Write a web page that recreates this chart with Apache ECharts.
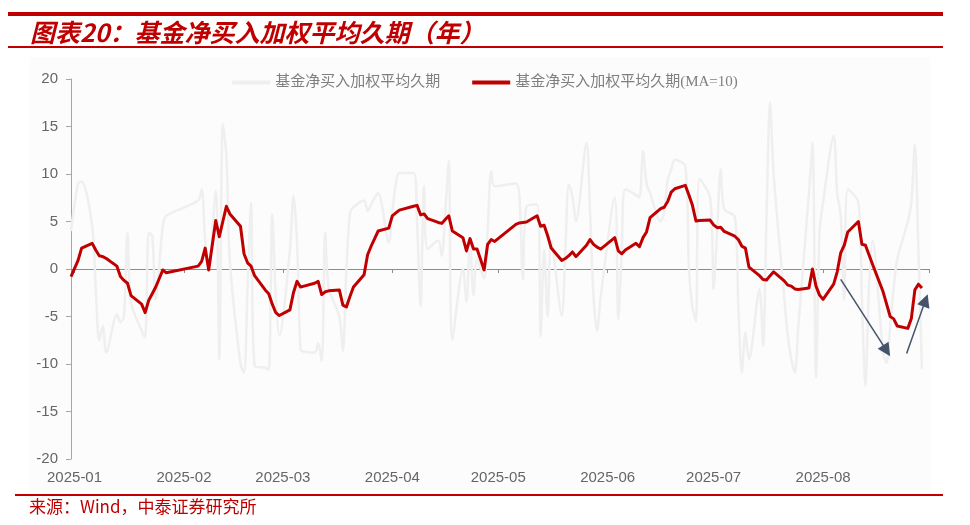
<!DOCTYPE html>
<html>
<head>
<meta charset="utf-8">
<script src="https://cdn.jsdelivr.net/npm/echarts@6/dist/echarts.min.js"></script>
<style>
html,body{margin:0;padding:0;background:#ffffff;}
#chart{width:970px;height:525px;}
</style>
</head>
<body>
<div id="chart"></div>
<script>
// ---- data ----
const tradeDates = [
'2024-12-31',
'2025-01-02','2025-01-03','2025-01-06','2025-01-07','2025-01-08','2025-01-09','2025-01-10','2025-01-13','2025-01-14','2025-01-15','2025-01-16','2025-01-17','2025-01-20','2025-01-21','2025-01-22','2025-01-23','2025-01-24','2025-01-26','2025-01-27',
'2025-02-05','2025-02-06','2025-02-07','2025-02-08','2025-02-10','2025-02-11','2025-02-12','2025-02-13','2025-02-14','2025-02-17','2025-02-18','2025-02-19','2025-02-20','2025-02-21','2025-02-24','2025-02-25','2025-02-26','2025-02-27','2025-02-28',
'2025-03-03','2025-03-04','2025-03-05','2025-03-06','2025-03-07','2025-03-10','2025-03-11','2025-03-12','2025-03-13','2025-03-14','2025-03-17','2025-03-18','2025-03-19','2025-03-20','2025-03-21','2025-03-24','2025-03-25','2025-03-26','2025-03-27','2025-03-28','2025-03-31',
'2025-04-01','2025-04-02','2025-04-03','2025-04-07','2025-04-08','2025-04-09','2025-04-10','2025-04-11','2025-04-14','2025-04-15','2025-04-16','2025-04-17','2025-04-18','2025-04-21','2025-04-22','2025-04-23','2025-04-24','2025-04-25','2025-04-27','2025-04-28','2025-04-29','2025-04-30',
'2025-05-06','2025-05-07','2025-05-08','2025-05-09','2025-05-12','2025-05-13','2025-05-14','2025-05-15','2025-05-16','2025-05-19','2025-05-20','2025-05-21','2025-05-22','2025-05-23','2025-05-26','2025-05-27','2025-05-28','2025-05-29','2025-05-30',
'2025-06-03','2025-06-04','2025-06-05','2025-06-06','2025-06-09','2025-06-10','2025-06-11','2025-06-12','2025-06-13','2025-06-16','2025-06-17','2025-06-18','2025-06-19','2025-06-20','2025-06-23','2025-06-24','2025-06-25','2025-06-26','2025-06-27','2025-06-30',
'2025-07-01','2025-07-02','2025-07-03','2025-07-04','2025-07-07','2025-07-08','2025-07-09','2025-07-10','2025-07-11','2025-07-14','2025-07-15','2025-07-16','2025-07-17','2025-07-18','2025-07-21','2025-07-22','2025-07-23','2025-07-24','2025-07-25','2025-07-28','2025-07-29','2025-07-30','2025-07-31',
'2025-08-01','2025-08-04','2025-08-05','2025-08-06','2025-08-07','2025-08-08','2025-08-11','2025-08-12','2025-08-13','2025-08-14','2025-08-15','2025-08-18','2025-08-19','2025-08-20','2025-08-21','2025-08-22','2025-08-25','2025-08-26','2025-08-27','2025-08-28','2025-08-29'
];

// 基金净买入加权平均久期 (raw, grey)
const rawDuration = [
4.0,
9.0, 9.2, 4.5, -2.0, -7.5, -6.0, -8.8, -4.8, -5.6, -5.0, 3.8, -3.5, -6.5, -7.2, 3.8, 3.5, -3.2, 4.5, 5.6,
7.2, 8.4, 3.0, 0.1, 8.2, -9.5, 15.3, 12.0, 0.8, -10.0, -10.9, -2.0, 7.0, -10.2, -10.4, -10.6, 5.75, -3.0, -7.0,
2.0, 7.7, 3.0, -8.5, -8.7, -8.8, -7.8, -9.7, 3.8, -2.0, -5.0, -8.6, 0.0, 5.9, 6.5, 7.2, 6.1, 6.8, 7.5, 8.0, 2.8,
6.0, 9.0, 10.1, 10.1, 5.0, -3.9, 8.7, 2.1, 3.0, 1.4, 6.0, 11.4, -7.4, 0.0, -3.5, 3.1, -2.8, 1.0, -1.0, 4.0, 10.3, 8.7,
9.0, 7.7, -1.1, 6.6, 6.8, -7.1, 2.0, -5.0, 3.0, -4.9, 2.0, 8.9, 7.7, 5.0, 13.3, 6.0, -3.0, -6.5, -3.0,
7.5, -5.3, 2.0, 8.4, 7.8, 7.5, 12.4, 9.0, 8.0, 5.0, 6.0, 9.4, 10.5, 11.5, 10.8, 0.0, -4.0, -5.5, 9.5, 7.5,
-2.1, 4.0, 10.5, 6.3, 5.5, -4.0, -10.9, -6.7, -9.5, -2.1, -8.1, 6.0, 17.5, 10.0, -3.0, -7.0, -9.5, -10.9, -6.0, 8.0, 13.3, -11.4, 4.0,
7.0, 14.0, 8.0, 5.6, -3.2, 8.4, 7.0, -3.2, -12.3, -2.0, 3.0, -8.8, -9.9, -6.0, -2.0, 1.0, 5.0, 7.0, 13.1, 2.0, -10.5
];

// 基金净买入加权平均久期(MA=10) (red)
const maDuration = [
-0.8,
0.9, 2.2, 2.7, 2.0, 1.4, 1.3, 1.1, 0.3, -0.8, -1.2, -1.5, -2.8, -3.7, -4.6, -3.3, -2.6, -1.9, -0.1, -0.4,
0.3, 0.8, 2.2, -0.1, 5.1, 3.4, 5.0, 6.6, 5.8, 4.5, 1.6, 0.65, 0.3, -0.7, -2.2, -2.6, -3.7, -4.6, -4.9,
-4.3, -2.5, -1.3, -1.9, -1.8, -1.5, -1.3, -2.7, -2.4, -2.3, -2.2, -3.8, -4.0, -2.9, -1.9, -0.6, 1.5, 2.4, 3.2, 4.0, 4.3,
5.6, 5.9, 6.2, 6.6, 6.7, 5.7, 5.8, 5.3, 4.9, 4.8, 5.2, 5.6, 4.0, 3.3, 1.9, 3.2, 2.1, 2.1, -0.1, 2.6, 3.1, 2.9,
4.7, 4.85, 4.9, 4.95, 5.6, 4.5, 4.6, 3.5, 2.2, 0.9, 1.1, 1.4, 1.8, 1.3, 2.5, 3.1, 2.6, 2.3, 2.1,
3.3, 1.9, 1.6, 2.0, 2.7, 2.35, 3.3, 3.9, 5.4, 6.35, 6.5, 7.1, 8.1, 8.45, 8.8, 7.8, 6.7, 5.05, 5.1, 5.15,
4.65, 4.35, 4.4, 3.95, 3.45, 3.1, 2.4, 2.2, 0.2, -0.7, -1.1, -1.15, -0.7, -0.3, -1.25, -1.7, -1.8, -2.1, -2.15, -2.0, 0.0, -1.8, -2.75,
-3.2, -1.6, -0.3, 1.7, 2.5, 3.9, 5.0, 2.6, 2.5, 1.5, 0.5, -2.4, -3.7, -5.0, -5.25, -6.0, -6.25, -5.2, -2.2, -1.6, -2.0
];

const seriesNames = ['基金净买入加权平均久期', '基金净买入加权平均久期(MA=10)'];
const yRange = [-20, 20, 5];
const xRange = ['2024-12-31', '2025-08-31'];
// annotation arrows: [start, end] as [date, value]
const arrowDown = [['2025-08-06', -1.1], ['2025-08-19 00', -8.6]];
const arrowUp = [['2025-08-24 16', -8.9], ['2025-08-30 00', -3.3]];

// ---- helpers ----
function ts(s) {
  const parts = s.split(' ');
  const ymd = parts[0].split('-').map(Number);
  const h = parts[1] ? Number(parts[1]) : 0;
  return new Date(ymd[0], ymd[1] - 1, ymd[2], h).getTime();
}
const rawData = tradeDates.map((d, i) => [ts(d), rawDuration[i]]);
const maData = tradeDates.map((d, i) => [ts(d), maDuration[i]]);
const DAY = 86400000;

const chart = echarts.init(document.getElementById('chart'), null, {renderer: 'canvas', width: 970, height: 525});

const monthFmt = function (v) {
  const d = new Date(v);
  if (d.getDate() !== 1) return '';
  const m = d.getMonth() + 1;
  return d.getFullYear() + '-' + (m < 10 ? '0' + m : m);
};

const xCommon = {
  type: 'time',
  min: ts(xRange[0]),
  max: ts(xRange[1]),
  splitNumber: 8,
  minInterval: 28 * DAY,
  maxInterval: 31 * DAY,
  splitLine: {show: false}
};

const option = {
  animation: false,
  backgroundColor: '#ffffff',
  textStyle: {fontFamily: '"Liberation Sans", "Noto Sans CJK SC", sans-serif'},
  graphic: [
    {type: 'rect', z: -10, shape: {x: 30, y: 57, width: 900, height: 434}, style: {fill: '#FCFCFC'}},
    {type: 'rect', shape: {x: 8, y: 12, width: 935, height: 4}, style: {fill: '#C00000'}},
    {type: 'rect', shape: {x: 8, y: 46, width: 935, height: 2}, style: {fill: '#C00000'}},
    {type: 'rect', shape: {x: 15, y: 494, width: 928, height: 2}, style: {fill: '#C00000'}},
    {type: 'text', x: 30, y: 32, style: {
      text: '图表20：基金净买入加权平均久期（年）',
      fill: '#C00000',
      font: 'italic bold 25px "Noto Sans CJK SC", sans-serif',
      textVerticalAlign: 'middle', verticalAlign: 'middle'
    }},
    {type: 'text', x: 29, y: 507, style: {
      text: '来源：Wind，中泰证券研究所',
      fill: '#C00000',
      font: '17px "Noto Sans CJK SC", sans-serif',
      textVerticalAlign: 'middle', verticalAlign: 'middle'
    }}
  ],
  legend: {
    top: 70,
    left: 'center',
    itemWidth: 38,
    itemHeight: 4,
    itemGap: 32,
    icon: 'rect',
    textStyle: {color: '#7F7F7F', fontSize: 15, fontFamily: '"Liberation Serif", "Noto Sans CJK SC", serif'},
    data: seriesNames
  },
  grid: {
    left: 71, right: 41, top: 79, bottom: 66,
    containLabel: false,
    outerBoundsMode: 'none'
  },
  xAxis: [
    Object.assign({}, xCommon, {
      position: 'bottom',
      axisLine: {show: true, onZero: true, lineStyle: {color: '#8C8C8C', width: 1}},
      axisTick: {show: true, length: 4, lineStyle: {color: '#8C8C8C'}},
      axisLabel: {show: false}
    }),
    Object.assign({}, xCommon, {
      position: 'bottom',
      axisLine: {show: false, onZero: false},
      axisTick: {show: false},
      axisLabel: {show: true, formatter: monthFmt, color: '#666666', fontSize: 15, margin: 11,
        fontFamily: '"Liberation Sans", sans-serif', hideOverlap: false}
    })
  ],
  yAxis: {
    type: 'value',
    min: yRange[0], max: yRange[1], interval: yRange[2],
    axisLine: {show: true, lineStyle: {color: '#A6A6A6', width: 1}},
    axisTick: {show: true, inside: false, length: 5, lineStyle: {color: '#A6A6A6'}},
    axisLabel: {color: '#666666', fontSize: 15, margin: 13, fontFamily: '"Liberation Sans", sans-serif'},
    splitLine: {show: false}
  },
  series: [
    {
      name: seriesNames[0],
      type: 'line',
      xAxisIndex: 0,
      data: rawData,
      smooth: 0.3,
      showSymbol: false,
      symbol: 'none',
      color: '#EFEFEF',
      lineStyle: {color: '#EFEFEF', width: 2.5},
      z: 2
    },
    {
      name: seriesNames[1],
      type: 'line',
      xAxisIndex: 0,
      data: maData,
      showSymbol: false,
      symbol: 'none',
      color: '#C00000',
      lineStyle: {color: '#C00000', width: 3, join: 'round'},
      clip: false,
      z: 4,
      markLine: {
        silent: true,
        symbol: ['none', 'triangle'],
        symbolSize: 13,
        label: {show: false},
        lineStyle: {color: '#44546A', width: 1.5, type: 'solid'},
        itemStyle: {color: '#44546A'},
        emphasis: {disabled: true},
        data: [
          [{coord: [ts(arrowDown[0][0]), arrowDown[0][1]]}, {coord: [ts(arrowDown[1][0]), arrowDown[1][1]]}],
          [{coord: [ts(arrowUp[0][0]), arrowUp[0][1]]}, {coord: [ts(arrowUp[1][0]), arrowUp[1][1]]}]
        ]
      }
    }
  ]
};
chart.setOption(option);
</script>
</body>
</html>
